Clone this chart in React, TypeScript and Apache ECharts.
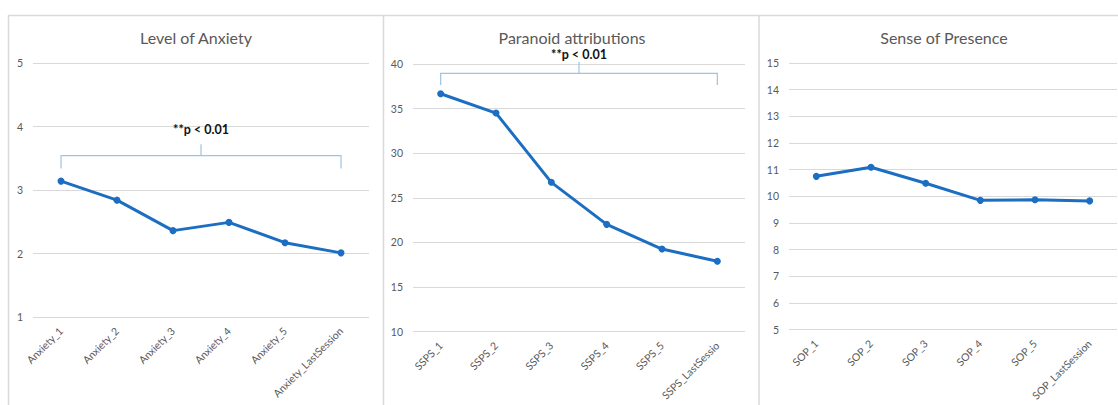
import React, { useEffect, useRef } from "react";
import * as echarts from "echarts";

const anxietyCategories = ["Anxiety_1", "Anxiety_2", "Anxiety_3", "Anxiety_4", "Anxiety_5", "Anxiety_LastSession"];
const anxietyValues = [3.14, 2.84, 2.36, 2.49, 2.17, 2.01];
const anxietyTicks = [1, 5, 1]; // min, max, interval

const sspsCategories = ["SSPS_1", "SSPS_2", "SSPS_3", "SSPS_4", "SSPS_5", "SSPS_LastSessio"];
const sspsValues = [36.67, 34.5, 26.74, 22.03, 19.26, 17.9];
const sspsTicks = [10, 40, 5];

const sopCategories = ["SOP_1", "SOP_2", "SOP_3", "SOP_4", "SOP_5", "SOP_LastSession"];
const sopValues = [10.75, 11.09, 10.49, 9.85, 9.87, 9.83];
const sopTicks = [5, 15, 1];

// bracket: [fromIndex, toIndex, lineY, endTickBottomY, midTickTopY, textY]
const anxietyBracket = [0, 5, 3.54, 3.34, 3.72, 3.95];
const sspsBracket = [0, 5, 38.96, 37.65, 40.26, 41.12];
const bracketLabel = "**p < 0.01";

const titles = ["Level of Anxiety", "Paranoid attributions", "Sense of Presence"];

const FONT = "Lato, 'Liberation Sans', sans-serif";
const LINE_COLOR = "#1B6EC2";
const GRID_COLOR = "#D9D9D9";
const LABEL_COLOR = "#595959";

export default function App() {
  const ref = useRef<HTMLDivElement>(null);
  useEffect(() => {
    if (!ref.current) return;
    const chart = echarts.init(ref.current, null, { renderer: "svg" });

    const grids = [
      { left: 33, top: 63, width: 336, height: 254 },
      { left: 413, top: 64, width: 332, height: 267.7 },
      { left: 789, top: 63, width: 328, height: 266.7 },
    ];
    const cats = [anxietyCategories, sspsCategories, sopCategories];
    const vals = [anxietyValues, sspsValues, sopValues];
    const ticks = [anxietyTicks, sspsTicks, sopTicks];

    const xAxis = cats.map((c, i) => ({
      type: "category",
      gridIndex: i,
      data: c,
      boundaryGap: true,
      axisLine: { show: false },
      axisTick: { show: false },
      axisLabel: {
        rotate: 45,
        interval: 0,
        margin: 12,
        color: LABEL_COLOR,
        fontSize: 10.5,
        fontFamily: FONT,
      },
    }));
    const yAxis = ticks.map((t, i) => ({
      type: "value",
      gridIndex: i,
      min: t[0],
      max: t[1],
      interval: t[2],
      axisLine: { show: false },
      axisTick: { show: false },
      axisLabel: { color: LABEL_COLOR, fontSize: 10.5, fontFamily: FONT, margin: 10 },
      splitLine: { lineStyle: { color: GRID_COLOR, width: 1 } },
    }));

    const lineSeries = vals.map((v, i) => ({
      type: "line",
      xAxisIndex: i,
      yAxisIndex: i,
      data: v,
      symbol: "circle",
      symbolSize: 7,
      lineStyle: { color: LINE_COLOR, width: 3 },
      itemStyle: { color: LINE_COLOR },
      z: 3,
    }));

    const bracketSeries = (b: number[], idx: number) => ({
      type: "custom",
      xAxisIndex: idx,
      yAxisIndex: idx,
      clip: false,
      z: 2,
      data: [b],
      renderItem: (_params: any, api: any) => {
        const pL = api.coord([api.value(0), api.value(2)]);
        const pR = api.coord([api.value(1), api.value(2)]);
        const bottomY = api.coord([api.value(0), api.value(3)])[1];
        const topY = api.coord([api.value(0), api.value(4)])[1];
        const textY = api.coord([api.value(0), api.value(5)])[1];
        const midX = (pL[0] + pR[0]) / 2;
        const stroke = { stroke: "#9DC3E6", lineWidth: 1.2, fill: null };
        return {
          type: "group",
          children: [
            { type: "polyline", shape: { points: [[pL[0], bottomY], [pL[0], pL[1]], [pR[0], pR[1]], [pR[0], bottomY]] }, style: stroke },
            { type: "line", shape: { x1: midX, y1: pL[1], x2: midX, y2: topY }, style: stroke },
            {
              type: "text",
              style: {
                text: bracketLabel,
                x: midX,
                y: textY,
                align: "center",
                verticalAlign: "middle",
                fill: "#111111",
                fontSize: 12.5,
                fontWeight: "bold",
                fontFamily: FONT,
              },
            },
          ],
        };
      },
    });

    const border = { stroke: "#D9D9D9", lineWidth: 1.5 };
    const titleX = [196, 572, 944];

    chart.setOption({
      animation: false,
      backgroundColor: "#ffffff",
      grid: grids,
      xAxis,
      yAxis,
      series: [...lineSeries, bracketSeries(anxietyBracket, 0), bracketSeries(sspsBracket, 1)],
      graphic: [
        { type: "line", shape: { x1: 8, y1: 15.5, x2: 1118, y2: 15.5 }, style: border, silent: true },
        { type: "line", shape: { x1: 8.5, y1: 15, x2: 8.5, y2: 405 }, style: border, silent: true },
        { type: "line", shape: { x1: 383.5, y1: 15, x2: 383.5, y2: 405 }, style: border, silent: true },
        { type: "line", shape: { x1: 759, y1: 15, x2: 759, y2: 405 }, style: border, silent: true },
        ...titles.map((t, i) => ({
          type: "text",
          x: titleX[i],
          y: 37,
          silent: true,
          style: {
            text: t,
            align: "center",
            verticalAlign: "middle",
            fill: "#595959",
            fontSize: 16,
            fontFamily: FONT,
          },
        })),
      ],
    });
    return () => chart.dispose();
  }, []);
  return <div ref={ref} style={{ position: "fixed", left: 0, top: 0, width: 1118, height: 405 }} />;
}
